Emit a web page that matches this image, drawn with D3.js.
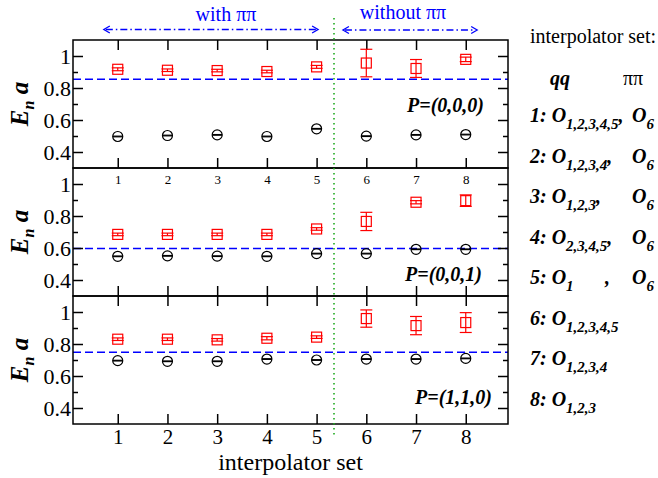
<!DOCTYPE html>
<html>
<head>
<meta charset="utf-8">
<script src="https://cdn.jsdelivr.net/npm/d3@7"></script>
<style>
  body { margin: 0; background: #fff; }
  svg { display: block; }
</style>
</head>
<body>
<script>
// ---- data ----
const sets = [1, 2, 3, 4, 5, 6, 7, 8];
const panelLabels = ["P=(0,0,0)", "P=(0,0,1)", "P=(1,1,0)"];
const thresholds = [0.855, 0.597, 0.748];

// red squares (higher level)
const sqVals = [
  [0.917, 0.911, 0.909, 0.903, 0.932, 0.956, 0.922, 0.979],
  [0.685, 0.685, 0.685, 0.685, 0.719, 0.766, 0.886, 0.896],
  [0.830, 0.830, 0.826, 0.836, 0.843, 0.959, 0.915, 0.934],
];
const sqErrs = [
  [0.009, 0.008, 0.008, 0.008, 0.009, 0.086, 0.056, 0.014],
  [0.008, 0.008, 0.008, 0.008, 0.008, 0.057, 0.010, 0.036],
  [0.008, 0.008, 0.008, 0.010, 0.008, 0.054, 0.057, 0.062],
];
// black circles (ground level)
const circVals = [
  [0.497, 0.503, 0.507, 0.497, 0.545, 0.499, 0.507, 0.509],
  [0.548, 0.551, 0.549, 0.548, 0.565, 0.565, 0.592, 0.592],
  [0.696, 0.692, 0.692, 0.706, 0.700, 0.706, 0.706, 0.710],
];
const circErrs = [
  [0.002, 0.002, 0.002, 0.002, 0.002, 0.002, 0.002, 0.002],
  [0.002, 0.002, 0.002, 0.002, 0.002, 0.002, 0.002, 0.002],
  [0.002, 0.002, 0.002, 0.002, 0.002, 0.002, 0.002, 0.002],
];

const yMajor = [0.4, 0.6, 0.8, 1];
const yMinor = [0.5, 0.7, 0.9];
const splitAt = 5.35;
const withRange = [0.72, 5.03];
const withoutRange = [5.53, 8.23];

const legendRows = [
  { n: "1", qq: "1,2,3,4,5", pipi: true },
  { n: "2", qq: "1,2,3,4", pipi: true },
  { n: "3", qq: "1,2,3", pipi: true },
  { n: "4", qq: "2,3,4,5", pipi: true },
  { n: "5", qq: "1", pipi: true, looseComma: true },
  { n: "6", qq: "1,2,3,4,5", pipi: false },
  { n: "7", qq: "1,2,3,4", pipi: false },
  { n: "8", qq: "1,2,3", pipi: false },
];

// ---- layout ----
const W = 658, H = 478;
const left = 73, right = 508, top0 = 40, ph = 128;
const serif = "'Liberation Serif', 'Times New Roman', Times, serif";
const labelPos = [
  { x: 484, y: 72 },
  { x: 482, y: 113 },
  { x: 492, y: 108 },
];

const svg = d3.select("body").append("svg")
  .attr("width", W).attr("height", H)
  .attr("font-family", serif);

const x = d3.scaleLinear().domain([0.1, 8.85]).range([left, right]);

panelLabels.forEach((label, i) => {
  const top = top0 + i * ph;
  const y = d3.scaleLinear().domain([0.3, 1.1]).range([top + ph, top]);
  const g = svg.append("g");

  // threshold line
  g.append("line")
    .attr("x1", left).attr("x2", right)
    .attr("y1", y(thresholds[i])).attr("y2", y(thresholds[i]))
    .attr("stroke", "#0000ff").attr("stroke-width", 1.5)
    .attr("stroke-dasharray", "8,4");

  // left axis, labels + inward ticks
  const ax = g.append("g").attr("transform", `translate(${left},0)`)
    .call(d3.axisLeft(y).tickValues(yMajor).tickSizeInner(-10).tickSizeOuter(0)
      .tickPadding(2).tickFormat(d => d === 1 ? "1" : d.toFixed(1)));
  ax.select(".domain").remove();
  ax.selectAll("text").attr("font-size", 22).attr("font-family", serif).attr("fill", "#000");

  const axm = g.append("g").attr("transform", `translate(${left},0)`)
    .call(d3.axisLeft(y).tickValues(yMinor).tickSize(-5).tickFormat(""));
  axm.select(".domain").remove();

  const axr = g.append("g").attr("transform", `translate(${right},0)`)
    .call(d3.axisRight(y).tickValues(yMajor).tickSize(-10).tickFormat(""));
  axr.select(".domain").remove();
  const axrm = g.append("g").attr("transform", `translate(${right},0)`)
    .call(d3.axisRight(y).tickValues(yMinor).tickSize(-5).tickFormat(""));
  axrm.select(".domain").remove();

  // top ticks (not on the middle panel)
  if (i !== 1) {
    const axt = g.append("g").attr("transform", `translate(0,${top})`)
      .call(d3.axisTop(x).tickValues(sets).tickSize(-10).tickFormat(""));
    axt.select(".domain").remove();
  }

  // bottom ticks
  const axb = g.append("g").attr("transform", `translate(0,${top + ph})`)
    .call(d3.axisBottom(x).tickValues(sets).tickSize(-10)
      .tickPadding(i === 0 ? 7 : 5)
      .tickFormat(i === 1 ? "" : d3.format("d")));
  axb.select(".domain").remove();
  axb.selectAll("text").attr("font-family", serif).attr("fill", "#000")
    .attr("font-size", i === 0 ? 13 : 21);

  g.selectAll(".tick line").attr("stroke", "#000").attr("stroke-width", 1.5);

  // frame
  g.append("rect")
    .attr("x", left).attr("y", top).attr("width", right - left).attr("height", ph)
    .attr("fill", "none").attr("stroke", "#000").attr("stroke-width", 1.5);

  // red squares with error bars
  const sq = g.append("g").attr("stroke", "#ff0000").attr("stroke-width", 1.2).attr("fill", "none");
  sets.forEach((s, k) => {
    const v = sqVals[i][k], e = sqErrs[i][k], cx = x(s);
    sq.append("line").attr("x1", cx).attr("x2", cx).attr("y1", y(v - e)).attr("y2", y(v + e));
    [v - e, v + e].forEach(b => sq.append("line")
      .attr("x1", cx - 6).attr("x2", cx + 6).attr("y1", y(b)).attr("y2", y(b)));
    sq.append("rect").attr("x", cx - 5).attr("y", y(v) - 5).attr("width", 10).attr("height", 10);
  });

  // black circles with error bars
  const ci = g.append("g").attr("stroke", "#000").attr("stroke-width", 1.2).attr("fill", "none");
  sets.forEach((s, k) => {
    const v = circVals[i][k], e = circErrs[i][k], cx = x(s);
    [v - e, v + e].forEach(b => ci.append("line")
      .attr("x1", cx - 5).attr("x2", cx + 5).attr("y1", y(b)).attr("y2", y(b)));
    ci.append("circle").attr("cx", cx).attr("cy", y(v)).attr("r", 5);
  });

  // panel label
  g.append("text")
    .attr("x", labelPos[i].x).attr("y", top + labelPos[i].y)
    .attr("text-anchor", "end")
    .attr("font-size", 20).attr("font-weight", "bold").attr("font-style", "italic")
    .text(label);

  // y title
  const yt = g.append("text")
    .attr("transform", `translate(28,${top + ph / 2}) rotate(-90)`)
    .attr("text-anchor", "middle")
    .attr("font-size", 25).attr("font-weight", "bold").attr("font-style", "italic");
  yt.append("tspan").text("E");
  yt.append("tspan").attr("font-size", 16).attr("dy", 6).text("n");
  yt.append("tspan").attr("dy", -6).text(" a");
});

// green split line across all panels
svg.append("line")
  .attr("x1", x(splitAt)).attr("x2", x(splitAt))
  .attr("y1", 18).attr("y2", 436)
  .attr("stroke", "#1faa1f").attr("stroke-width", 1.6)
  .attr("stroke-dasharray", "1.6,3.4");

// x title
svg.append("text")
  .attr("x", (left + right) / 2).attr("y", 470)
  .attr("text-anchor", "middle").attr("font-size", 24)
  .text("interpolator set");

// top annotations: with / without pi pi
function arrow(range, yPos) {
  const x1 = x(range[0]), x2 = x(range[1]);
  const a = svg.append("g").attr("stroke", "#0000ff").attr("stroke-width", 1.3).attr("fill", "none");
  a.append("line").attr("x1", x1 + 2).attr("x2", x2 - 2).attr("y1", yPos).attr("y2", yPos)
    .attr("stroke-dasharray", "7,3,1.5,3");
  a.append("path").attr("d", `M${x1 + 6},${yPos - 3.5}L${x1},${yPos}L${x1 + 6},${yPos + 3.5}`);
  a.append("path").attr("d", `M${x2 - 6},${yPos - 3.5}L${x2},${yPos}L${x2 - 6},${yPos + 3.5}`);
}
arrow(withRange, 29.5);
arrow(withoutRange, 30);

svg.append("text")
  .attr("x", 226).attr("y", 21).attr("text-anchor", "middle")
  .attr("font-size", 20).attr("fill", "#0000ff").text("with ππ");
svg.append("text")
  .attr("x", 403).attr("y", 19).attr("text-anchor", "middle")
  .attr("font-size", 20).attr("fill", "#0000ff").text("without ππ");

// legend on the right
const lg = svg.append("g");
lg.append("text").attr("x", 530).attr("y", 43).attr("font-size", 20).text("interpolator set:");
lg.append("text").attr("x", 550).attr("y", 85).attr("font-size", 20)
  .attr("font-weight", "bold").attr("font-style", "italic").text("qq");
lg.append("text").attr("x", 623).attr("y", 85).attr("font-size", 20).text("ππ");

legendRows.forEach((r, i) => {
  const yb = 122 + i * 40.5;
  const t = lg.append("text").attr("x", 530).attr("y", yb)
    .attr("font-size", 20).attr("font-weight", "bold").attr("font-style", "italic");
  t.append("tspan").text(r.n + ": O");
  t.append("tspan").attr("font-size", 15).attr("dy", 7).text(r.qq);
  if (r.pipi) {
    if (r.looseComma) {
      lg.append("text").attr("x", 605).attr("y", yb)
        .attr("font-size", 20).attr("font-weight", "bold").attr("font-style", "italic").text(",");
    } else {
      t.append("tspan").attr("dy", -7).text(",");
    }
    const o = lg.append("text").attr("x", 632).attr("y", yb)
      .attr("font-size", 20).attr("font-weight", "bold").attr("font-style", "italic");
    o.append("tspan").text("O");
    o.append("tspan").attr("font-size", 15).attr("dy", 7).text("6");
  }
});
</script>
</body>
</html>
